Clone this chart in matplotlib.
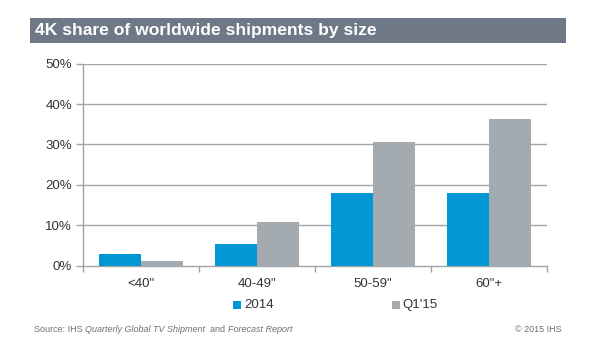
import matplotlib
matplotlib.use("Agg")
import matplotlib.pyplot as plt
from matplotlib.patches import Rectangle
import numpy as np

plt.rcParams['font.family'] = ['Liberation Sans', 'DejaVu Sans']

categories = ['<40"', '40-49"', '50-59"', '60"+']
series_names = ['2014', "Q1'15"]
values_2014 = [2.8, 5.3, 18.1, 18.1]
values_q115 = [1.2, 10.9, 30.6, 36.3]
yticks = [0, 10, 20, 30, 40, 50]
ytick_labels = ['0%', '10%', '20%', '30%', '40%', '50%']
title = "4K share of worldwide shipments by size"
source_parts = ["Source: IHS ", "Quarterly Global TV Shipment", "  and ", "Forecast Report"]
copyright_text = "\u00a9 2015 IHS"

blue = '#0097D4'
gray = '#A3ABB1'
axis_gray = '#A0A4A8'
text_col = '#333333'

fig = plt.figure(figsize=(6, 3.5), dpi=100)
fig.patch.set_facecolor('white')

# title bar
fig.patches.append(Rectangle((30/600, 1-43/350), 536/600, 25/350,
                             transform=fig.transFigure, facecolor='#6E7886',
                             edgecolor='none', zorder=0))
fig.text(35/600, 1-31/350, title, color='white', fontsize=12.6,
         fontweight='bold', va='center', ha='left')

ax = fig.add_axes([83/600, 1-265.7/350, 464/600, (265.7-63.6)/350])
x = np.arange(len(categories))
w = 0.362
ax.bar(x - w/2, values_2014, width=w, color=blue, zorder=3, label=series_names[0])
ax.bar(x + w/2, values_q115, width=w, color=gray, zorder=3, label=series_names[1])

ax.set_xlim(-0.5, len(categories) - 0.5)
ax.set_ylim(0, 50)
ax.set_yticks(yticks)
ax.set_yticklabels(ytick_labels, fontsize=9.5, color=text_col)
for yv in yticks[1:]:
    ax.axhline(yv, color=axis_gray, lw=1.0, zorder=1)

ax.set_xticks(np.arange(-0.5, len(categories), 1.0))
ax.set_xticklabels([])
ax.set_xticks(x, minor=True)
ax.set_xticklabels(categories, minor=True, fontsize=9.5, color=text_col)
ax.tick_params(axis='x', which='minor', length=0, pad=9)
ax.tick_params(axis='x', which='major', length=4, color=axis_gray, width=1)
ax.tick_params(axis='y', length=5, color=axis_gray, width=1, pad=3)

for s in ['top', 'right']:
    ax.spines[s].set_visible(False)
for s in ['left', 'bottom']:
    ax.spines[s].set_color(axis_gray)
    ax.spines[s].set_linewidth(1.0)

# legend
leg_y = 1 - 305/350
fig.patches.append(Rectangle((233/600, leg_y - 4/350), 8/600, 8/350,
                             transform=fig.transFigure, facecolor=blue, edgecolor='none'))
fig.text(244/600, leg_y, series_names[0], fontsize=9.5, color=text_col, va='center', ha='left')
fig.patches.append(Rectangle((392/600, leg_y - 4/350), 8/600, 8/350,
                             transform=fig.transFigure, facecolor=gray, edgecolor='none'))
fig.text(402/600, leg_y, series_names[1], fontsize=9.5, color=text_col, va='center', ha='left')

# footer
fy = 1 - 330/350
renderer = fig.canvas.get_renderer()
xpos = 34
styles = ['normal', 'italic', 'normal', 'italic']
for part, st in zip(source_parts, styles):
    t = fig.text(xpos/600, fy, part, fontsize=6.5, color='#707070', style=st,
                 va='center', ha='left')
    bb = t.get_window_extent(renderer=renderer)
    xpos += bb.width
fig.text(562/600, fy, copyright_text, fontsize=6.5, color='#707070', va='center', ha='right')

fig.savefig('out.png', dpi=100)
